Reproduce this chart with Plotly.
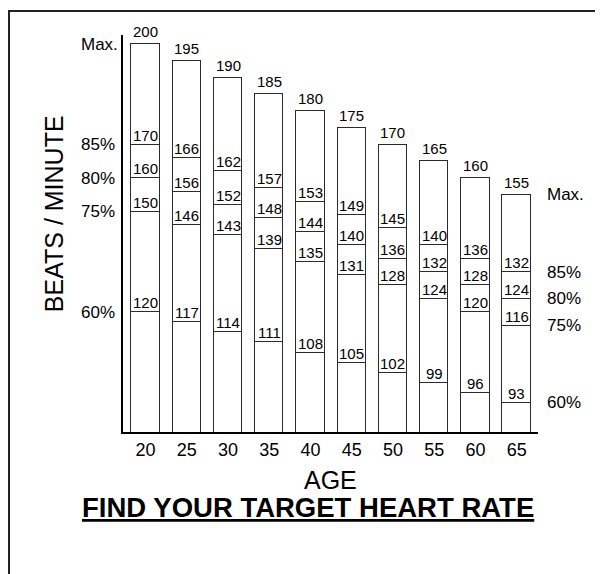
import plotly.graph_objects as go

# Target heart rate by age (beats / minute)
ages = [20, 25, 30, 35, 40, 45, 50, 55, 60, 65]
hr_max = [200, 195, 190, 185, 180, 175, 170, 165, 160, 155]
hr_85 = [170, 166, 162, 157, 153, 149, 145, 140, 136, 132]
hr_80 = [160, 156, 152, 148, 144, 140, 136, 132, 128, 124]
hr_75 = [150, 146, 143, 139, 135, 131, 128, 124, 120, 116]
hr_60 = [120, 117, 114, 111, 108, 105, 102, 99, 96, 93]
level_names = ["Max.", "85%", "80%", "75%", "60%"]

levels = [hr_60, hr_75, hr_80, hr_85, hr_max]
FONT = "Liberation Sans, Arial"
LINE = "#2b2b2b"

fig = go.Figure()

# stacked segments -> outlines give the zone lines inside each bar
prev = [0] * len(ages)
for lvl in levels:
    seg = [v - p for v, p in zip(lvl, prev)]
    fig.add_trace(go.Bar(
        x=ages, y=seg, width=3.45,
        marker=dict(color="white", line=dict(color=LINE, width=1.4)),
        hoverinfo="skip", showlegend=False,
    ))
    prev = lvl

# value labels sitting on each line
for lvl in levels:
    shift = 2 if lvl is hr_max else -1
    for a, v in zip(ages, lvl):
        fig.add_annotation(
            x=a, y=v, text=str(v), showarrow=False,
            xanchor="center", yanchor="bottom", yshift=shift,
            font=dict(family=FONT, size=15, color="black"),
        )

# level names on the left (age 20) and right (age 65)
left_vals = [hr_max[0], hr_85[0], hr_80[0], hr_75[0], hr_60[0]]
right_vals = [hr_max[-1], hr_85[-1], hr_80[-1], hr_75[-1], hr_60[-1]]
for name, lv, rv in zip(level_names, left_vals, right_vals):
    fig.add_annotation(x=-0.106, xref="paper", y=lv, text=name, showarrow=False,
                       xanchor="left", yanchor="middle",
                       font=dict(family=FONT, size=17, color="black"))
    fig.add_annotation(x=1.017, xref="paper", y=rv, text=name, showarrow=False,
                       xanchor="left", yanchor="middle",
                       font=dict(family=FONT, size=17, color="black"))

fig.add_annotation(x=-0.166, xref="paper", y=0.549, yref="paper",
                   text="BEATS / MINUTE", textangle=-90, showarrow=False,
                   xanchor="center", yanchor="middle",
                   font=dict(family=FONT, size=25, color="black"))
fig.add_annotation(x=0.5, xref="paper", y=-0.12, yref="paper",
                   text="AGE", showarrow=False, yanchor="middle",
                   font=dict(family=FONT, size=25, color="black"))
fig.add_annotation(x=0.446, xref="paper", y=-0.191, yref="paper",
                   text="<b><u>FIND YOUR TARGET HEART RATE</u></b>", showarrow=False,
                   xanchor="center", yanchor="middle",
                   font=dict(family=FONT, size=27.5, color="black"))

# page frame
fig.add_shape(type="rect", xref="paper", yref="paper",
              x0=-0.2747, x1=1.4, y0=-0.6, y1=1.0605,
              line=dict(color="#222", width=2))

fig.update_layout(
    barmode="stack",
    bargap=0,
    width=595, height=566,
    margin=dict(l=115, r=65, t=27, b=142),
    paper_bgcolor="white",
    plot_bgcolor="white",
    xaxis=dict(
        range=[17.27, 67.58],
        tickvals=ages, ticks="", showgrid=False, zeroline=False,
        showline=True, linecolor="black", linewidth=2,
        tickfont=dict(family=FONT, size=18, color="black"),
    ),
    yaxis=dict(
        range=[84.3, 202.7],
        showticklabels=False, ticks="", showgrid=False, zeroline=False,
        showline=True, linecolor="black", linewidth=2,
    ),
)

fig.write_html("out.html")
